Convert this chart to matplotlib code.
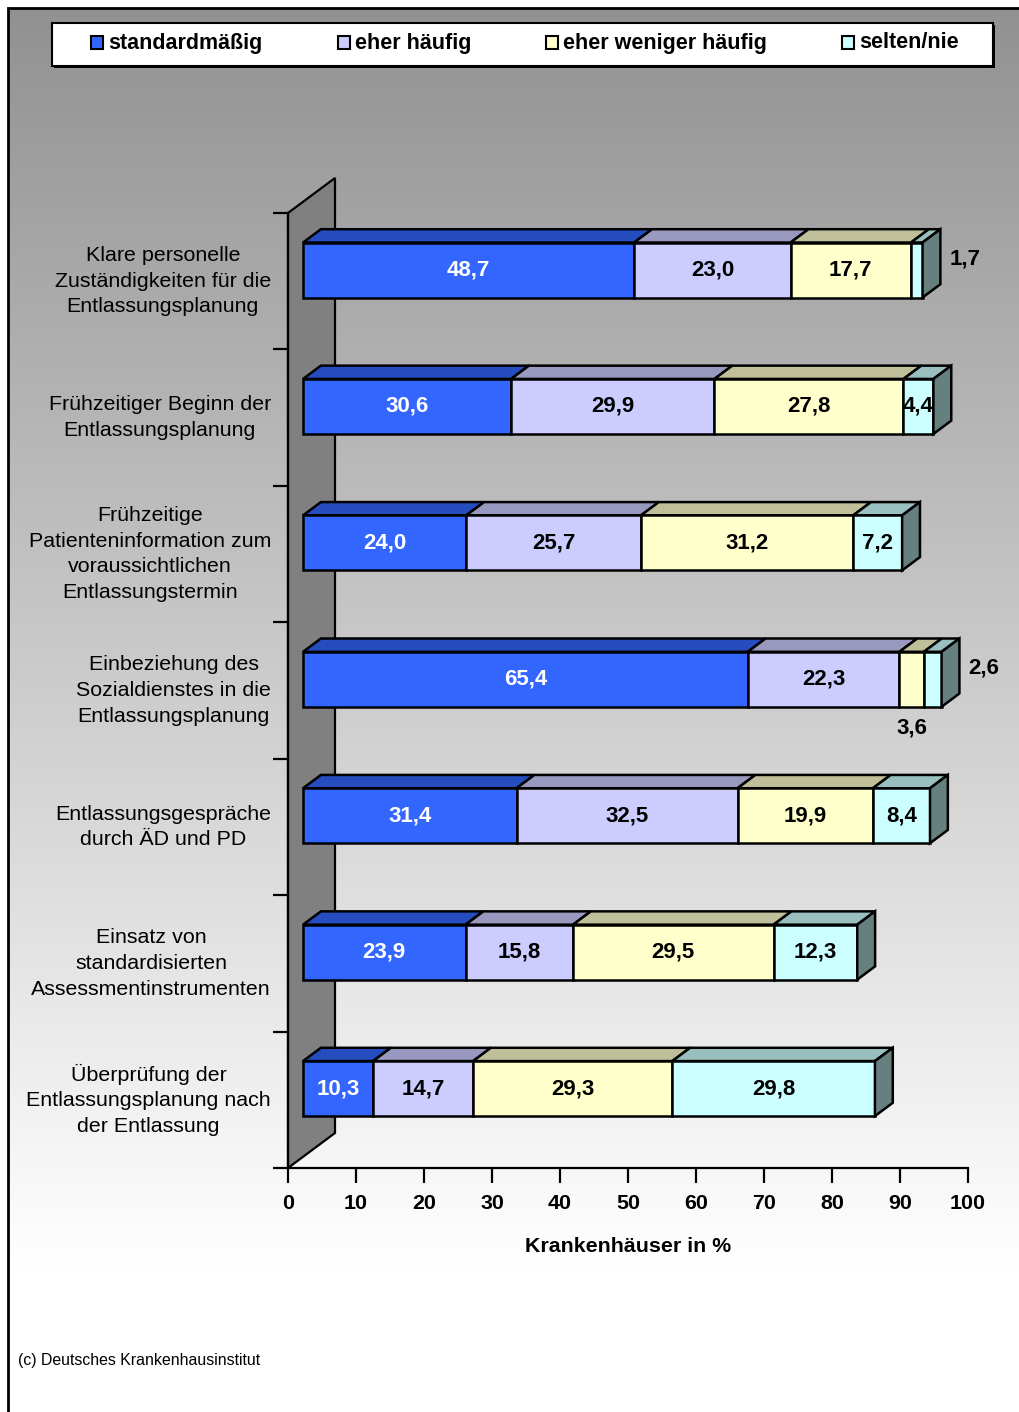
import numpy as np
import matplotlib.pyplot as plt
from matplotlib.patches import Polygon, Rectangle
from matplotlib.colors import to_rgb

plt.rcParams['font.family'] = ['Liberation Sans', 'DejaVu Sans']

categories = [
    'Klare personelle\nZuständigkeiten für die\nEntlassungsplanung',
    'Frühzeitiger Beginn der\nEntlassungsplanung',
    'Frühzeitige\nPatienteninformation zum\nvoraussichtlichen\nEntlassungstermin',
    'Einbeziehung des\nSozialdienstes in die\nEntlassungsplanung',
    'Entlassungsgespräche\ndurch ÄD und PD',
    'Einsatz von\nstandardisierten\nAssessmentinstrumenten',
    'Überprüfung der\nEntlassungsplanung nach\nder Entlassung',
]
series = ['standardmäßig', 'eher häufig', 'eher weniger häufig', 'selten/nie']
standard = [48.7, 30.6, 24.0, 65.4, 31.4, 23.9, 10.3]
haeufig = [23.0, 29.9, 25.7, 22.3, 32.5, 15.8, 14.7]
weniger = [17.7, 27.8, 31.2, 3.6, 19.9, 29.5, 29.3]
selten = [1.7, 4.4, 7.2, 2.6, 8.4, 12.3, 29.8]
xticks = list(range(0, 101, 10))

front_colors = ['#3366FF', '#CCCCFF', '#FFFFCC', '#CCFFFF']
text_colors = ['white', 'black', 'black', 'black']


def shade(c, f):
    r, g, b = to_rgb(c)
    return (r * f, g * f, b * f)


W, H = 1019, 1412
fig = plt.figure(figsize=(W / 100, H / 100), dpi=100)

# background: grey-to-white gradient with a frame line top/left
bg = fig.add_axes([0, 0, 1, 1])
bg.set_xlim(0, W)
bg.set_ylim(H, 0)
bg.axis('off')
grad = np.clip(np.linspace(0.57, 1.05, 256), 0, 1)[:, None]
bg.imshow(np.dstack([grad, grad, grad]), extent=[8, W, H, 8], aspect='auto',
          interpolation='bilinear', zorder=0)
bg.plot([8, 8, W], [H, 8, 8], color='black', lw=2, zorder=1,
        solid_joinstyle='miter')

# legend box
bg.add_patch(Rectangle((54, 25), 941, 43, facecolor='black', zorder=2))
bg.add_patch(Rectangle((52, 23), 941, 43, facecolor='white', edgecolor='black',
                       lw=1.5, zorder=3))
leg_x = [91, 338, 546, 842]
for lx, name, col in zip(leg_x, series, front_colors):
    bg.add_patch(Rectangle((lx, 36), 12, 13, facecolor=col, edgecolor='black',
                           lw=1.5, zorder=4))
    bg.text(lx + 17, 43, name, fontsize=15.5, fontweight='bold', ha='left',
            va='center', zorder=4)

bg.text(18, 1361, '(c) Deutsches Krankenhausinstitut', fontsize=11.4,
        ha='left', va='center')

# main plot area
ax = fig.add_axes([288 / W, 1 - 1168 / H, 680 / W, 955 / H])
ax.patch.set_visible(False)
ax.set_xlim(0, 100)
ax.set_ylim(0, 7)
for s in ['top', 'right']:
    ax.spines[s].set_visible(False)
for s in ['left', 'bottom']:
    ax.spines[s].set_linewidth(1.6)
ax.set_xticks(xticks)
ax.set_xticklabels([str(t) for t in xticks], fontsize=15.4, fontweight='bold')
ax.set_yticks(range(8))
ax.set_yticklabels([])
ax.tick_params(direction='out', length=11, width=1.6, pad=8)
ax.set_xlabel('Krankenhäuser in %', fontsize=15.4, fontweight='bold',
              labelpad=17)

# depth of the 3d wall in data units, bars sit between f1 and f2
DX = 47 / 6.8
DY = 35 / (955 / 7)
f1, f2 = 0.32, 0.70
bh = 55 / (955 / 7)

wall = Polygon([(0, 0), (DX, DY), (DX, 7 + DY), (0, 7)], closed=True,
               facecolor='#808080', edgecolor='black', lw=1.6,
               clip_on=False, zorder=1)
ax.add_patch(wall)

data = np.array([standard, haeufig, weniger, selten]).T
n = len(categories)
for i in range(n):
    yc = n - i - 0.5
    y0, y1 = yc - bh / 2, yc + bh / 2
    ax.text(-2.5, yc, categories[i], fontsize=15.4, ha='right', va='center',
            multialignment='center', linespacing=1.45)
    left = 0.0
    vals = data[i]
    for j, v in enumerate(vals):
        right = left + v
        front = [(left + f1 * DX, y0 + f1 * DY), (right + f1 * DX, y0 + f1 * DY),
                 (right + f1 * DX, y1 + f1 * DY), (left + f1 * DX, y1 + f1 * DY)]
        top = [(left + f1 * DX, y1 + f1 * DY), (right + f1 * DX, y1 + f1 * DY),
               (right + f2 * DX, y1 + f2 * DY), (left + f2 * DX, y1 + f2 * DY)]
        ax.add_patch(Polygon(top, closed=True, facecolor=shade(front_colors[j], 0.75),
                             edgecolor='black', lw=1.8, clip_on=False, zorder=3,
                             joinstyle='miter'))
        ax.add_patch(Polygon(front, closed=True, facecolor=front_colors[j],
                             edgecolor='black', lw=1.8, clip_on=False, zorder=4,
                             joinstyle='miter'))
        if j == len(vals) - 1:
            side = [(right + f1 * DX, y0 + f1 * DY), (right + f2 * DX, y0 + f2 * DY),
                    (right + f2 * DX, y1 + f2 * DY), (right + f1 * DX, y1 + f1 * DY)]
            ax.add_patch(Polygon(side, closed=True, facecolor=shade(front_colors[j], 0.5),
                                 edgecolor='black', lw=1.8, clip_on=False, zorder=4,
                                 joinstyle='miter'))

        label = f'{v:.1f}'.replace('.', ',')
        ty = yc + f1 * DY
        if j == len(vals) - 1 and v < 3:
            ax.text(right + f2 * DX + 1.3, ty + 0.08, label, fontsize=16,
                    fontweight='bold', ha='left', va='center', zorder=5)
        elif v < 4:
            ax.text((left + right) / 2 + f1 * DX, ty - 0.36, label, fontsize=16,
                    fontweight='bold', ha='center', va='center', zorder=5)
        else:
            ax.text((left + right) / 2 + f1 * DX, ty, label, fontsize=16,
                    fontweight='bold', ha='center', va='center',
                    color=text_colors[j], zorder=5)
        left = right

fig.savefig('out.png', dpi=100)
